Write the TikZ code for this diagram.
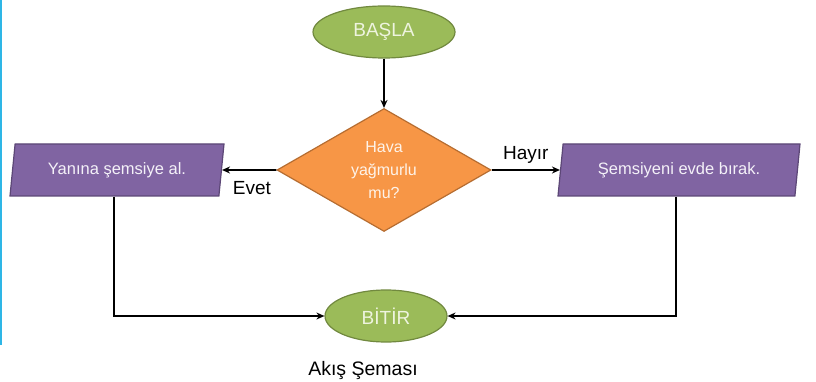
\documentclass[tikz,border=0pt]{standalone}
\usepackage{fontspec}
\setmainfont{Liberation Sans}
\usetikzlibrary{positioning,calc,arrows.meta,shapes.geometric}

\begin{document}
\begin{tikzpicture}[
    x=1pt,y=1pt,
    every node/.style={draw,line width=1.2pt,text=color5},
    uc/.style={ellipse,fill=color1,draw=color2,text=color6,inner sep=0pt,minimum height=52pt,font=\fontsize{19}{22}\selectfont},
    kutu/.style={trapezium,trapezium left angle=77,trapezium right angle=103,trapezium stretches body,fill=color3,draw=color4,minimum height=52pt,font=\fontsize{16.5}{20}\selectfont},
    etiket/.style={draw=none,text=black,font=\fontsize{19}{22}\selectfont},
    ok/.style={-{Stealth[length=8pt,width=7pt]},line width=1.8pt}
  ]

  \definecolor{color1}{HTML}{9BBB59}
  \definecolor{color2}{HTML}{71893F}
  \definecolor{color3}{HTML}{8064A2}
  \definecolor{color4}{HTML}{5C4776}
  \definecolor{color5}{HTML}{F4F1F8}
  \definecolor{color6}{HTML}{EEF4DF}
  \definecolor{color7}{HTML}{F79646}
  \definecolor{color8}{HTML}{B66D31}
  \definecolor{color9}{HTML}{2EB6E6}

  \useasboundingbox (0,0) rectangle (816,-382);
  \draw[color9,line width=2.5pt] (1.2,0) -- (1.2,-345);

  \node[uc,minimum width=142pt] at (384,-32)  (basla)  {BAŞLA};
  \node[diamond,fill=color7,draw=color8,text=white!88!color7,inner sep=0pt,minimum width=214pt,minimum height=118pt,align=center,font=\fontsize{16}{23}\selectfont] at (384,-170) (karar) {Hava\\yağmurlu\\mu?};
  \node[kutu,minimum width=214pt] at (117,-170) (yanina) {Yanına şemsiye al.};
  \node[kutu,minimum width=242pt] at (679,-170) (evde)   {Şemsiyeni evde bırak.};
  \node[uc,minimum width=122pt] at (386,-316) (bitir)  {BİTİR};
  \node[etiket,font=\fontsize{19.5}{22}\selectfont] at (363,-370) (baslik) {Akış Şeması};

  \draw[ok] (basla) -- (karar);
  \draw[ok] (karar.west) -- node[etiket,below=7pt,pos=0.45] {Evet} (yanina.east);
  \draw[ok] (karar.east) -- node[etiket,above=3pt] {Hayır} (evde.west);
  \draw[ok] ($(yanina.bottom left corner)!0.5!(yanina.bottom right corner)$) |- (bitir.west);
  \draw[ok] ($(evde.bottom left corner)!0.5!(evde.bottom right corner)$) |- (bitir.east);
\end{tikzpicture}
\end{document}
